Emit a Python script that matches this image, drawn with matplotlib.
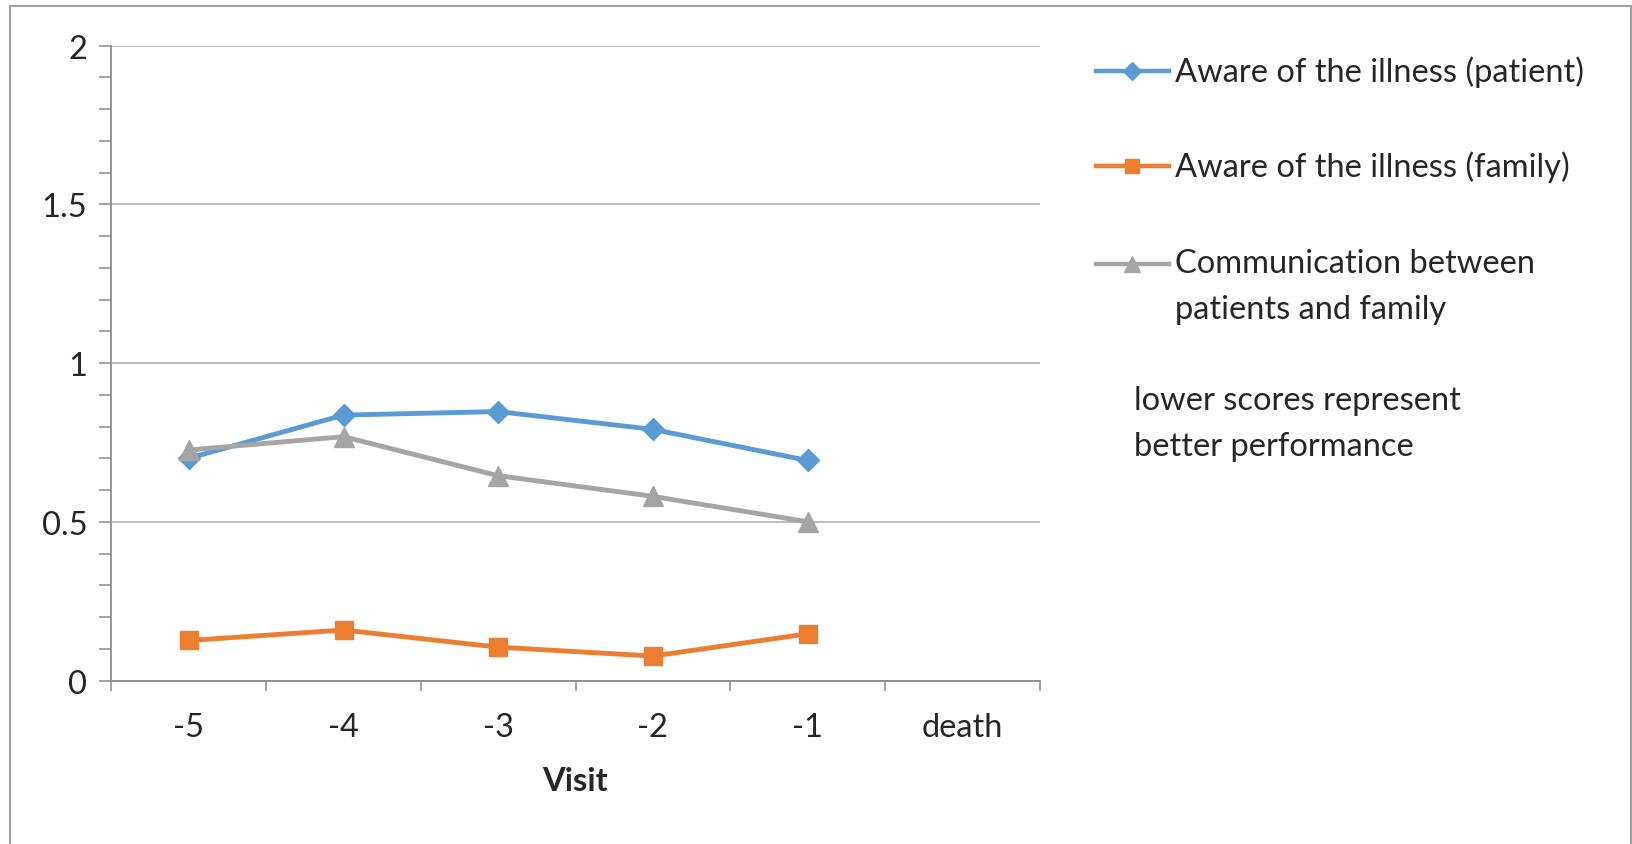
import matplotlib
matplotlib.use("Agg")
import matplotlib.pyplot as plt
from matplotlib.patches import Rectangle
from matplotlib.lines import Line2D
from matplotlib.ticker import MultipleLocator, FixedLocator, NullFormatter

# ─────────────────────────────────────────────
# DATI
# ─────────────────────────────────────────────
visite = ["-5", "-4", "-3", "-2", "-1", "death"]

aware_patient = [0.70, 0.836, 0.847, 0.791, 0.693]
aware_family = [0.126, 0.159, 0.105, 0.077, 0.147]
communication = [0.726, 0.768, 0.645, 0.580, 0.50]

y_ticks = [0, 0.5, 1, 1.5, 2]
y_labels = ["0", "0.5", "1", "1.5", "2"]

etichette = [
    "Aware of the illness (patient)",
    "Aware of the illness (family)",
    "Communication between\npatients and family",
]
nota = "lower scores represent\nbetter performance"

BLU = "#5B9BD5"
ARANCIO = "#ED7D31"
GRIGIO = "#A5A5A5"
ASSE = "#8C8C8C"
TESTO = "#262626"
FS = 23.5

plt.rcParams["font.family"] = ["Lato", "DejaVu Sans"]

W, H = 1633, 845
fig = plt.figure(figsize=(W / 100, H / 100), dpi=100)


def fx(px):
    return px / W


def fy(py):
    return 1 - py / H


# bordo esterno (il lato inferiore è fuori dall'immagine)
fig.add_artist(Rectangle((fx(10), -0.1), fx(1631 - 10), 1.1 - 7 / H,
                         transform=fig.transFigure, fill=False,
                         edgecolor="#A0A0A0", linewidth=1.5))

ax = fig.add_axes([fx(111.5), fy(681.5), fx(1039.5 - 111.5), (681.5 - 46.5) / H])

serie = [
    (aware_patient, BLU, "D", 11.5),
    (aware_family, ARANCIO, "s", 13),
    (communication, GRIGIO, "^", 14.5),
]
pos = list(range(len(aware_patient)))
for valori, colore, marker, ms in serie:
    ax.plot(pos, valori, color=colore, lw=3.5, marker=marker, ms=ms,
            solid_capstyle="round", solid_joinstyle="round")

# asse y
ax.set_ylim(0, 2)
ax.set_yticks(y_ticks, labels=y_labels)
ax.yaxis.set_minor_locator(MultipleLocator(0.1))
ax.tick_params(axis="y", which="both", direction="out", length=8.5,
               width=1.1, color=ASSE, labelsize=FS, labelcolor=TESTO, pad=9)
ax.grid(axis="y", which="major", color="#ABABAB", lw=1.1)

# asse x: categorie, tacche tra una categoria e l'altra
ax.set_xlim(-0.5, len(visite) - 0.5)
ax.set_xticks(range(len(visite)), labels=visite)
ax.xaxis.set_minor_locator(FixedLocator([i - 0.5 for i in range(len(visite) + 1)]))
ax.xaxis.set_minor_formatter(NullFormatter())
ax.tick_params(axis="x", which="major", length=0, labelsize=FS,
               labelcolor=TESTO, pad=23)
ax.tick_params(axis="x", which="minor", direction="out", length=7.5,
               width=1.1, color=ASSE)
ax.set_xlabel("Visit", fontsize=FS, fontweight="bold", color=TESTO, labelpad=17)

for lato in ["top", "right"]:
    ax.spines[lato].set_visible(False)
for lato in ["left", "bottom"]:
    ax.spines[lato].set_color(ASSE)
    ax.spines[lato].set_linewidth(1.3)
ax.set_axisbelow(True)

# legenda a destra, disegnata a mano per controllare la spaziatura
leg_y = [72, 167, 265]
for (valori, colore, marker, ms), testo, py in zip(serie, etichette, leg_y):
    fig.add_artist(Line2D([fx(1096), fx(1169)], [fy(py), fy(py)],
                          transform=fig.transFigure, color=colore, lw=3.2))
    fig.add_artist(Line2D([fx(1132)], [fy(py)], transform=fig.transFigure,
                          color=colore, marker=marker, ms=ms * 0.8, lw=0))
    righe = testo.count("\n")
    fig.text(fx(1175), fy(py + righe * 22), testo, fontsize=FS, color=TESTO,
             va="center", ha="left", linespacing=1.65)

fig.text(fx(1134), fy(424), nota, fontsize=FS, color=TESTO,
         va="center", ha="left", linespacing=1.65)

fig.savefig("out.png", dpi=100)
